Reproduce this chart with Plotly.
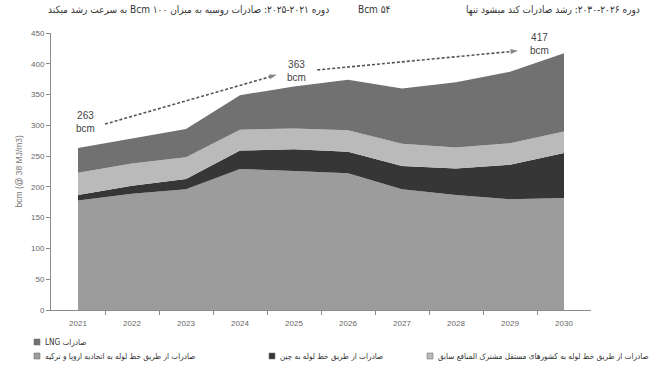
import plotly.graph_objects as go

# ---- data (bcm @ 38 MJ/m3) ----
years = [2021, 2022, 2023, 2024, 2025, 2026, 2027, 2028, 2029, 2030]
eu_turkey = [178, 189, 196, 229, 226, 222, 196, 187, 180, 182]
china = [9, 13, 17, 30, 35, 35, 38, 43, 56, 73]
cis = [36, 36, 35, 34, 34, 35, 36, 34, 35, 35]
lng = [40, 40, 46, 56, 68, 82, 90, 106, 116, 127]

series_names = [
    "صادرات از طریق خط لوله به اتحادیه اروپا و ترکیه",
    "صادرات از طریق خط لوله به چین",
    "صادرات از طریق خط لوله به کشورهای مستقل مشترک المنافع سابق",
    "صادرات LNG",
]
series_values = [eu_turkey, china, cis, lng]
series_colors = ["#9c9c9c", "#363636", "#bababa", "#717171"]

headline_left = "دوره ۲۰۲۱-۲۰۲۵: صادرات روسیه به میزان ۱۰۰ Bcm به سرعت رشد میکند"
headline_right_main = "دوره ۲۰۲۶-۲۰۳۰: رشد صادرات کند میشود تنها"
headline_right_tail = "۵۴ Bcm"
y_title = "bcm (@ 38 MJ/m3)"

totals = [sum(v) for v in zip(*series_values)]

W, H = 652, 374
L, R, T, B = 51, 61, 33, 64
PW, PH = W - L - R, H - T - B


def px_x(x):
    return (x - L) / PW


def px_y(y):
    return (H - B - y) / PH


def rtl(s):
    return "\u202b" + s + "\u202c"


BASE_FONT = "Liberation Sans, DejaVu Sans, sans-serif"
FA_FONT = "DejaVu Sans Condensed, DejaVu Sans, sans-serif"

fig = go.Figure()

# stacked areas
for name, vals, col in zip(series_names, series_values, series_colors):
    fig.add_trace(go.Scatter(
        x=years, y=vals, name=name, stackgroup="one", mode="lines",
        line=dict(width=0, color=col), fillcolor=col,
        showlegend=False, hoverinfo="x+y+name",
    ))

# dashed growth arrows between the milestone totals
arrows = [
    ([2021.5, 2024.68], [302, 382]),
    ([2025.43, 2029.15], [390, 421]),
]
for ax_, ay_ in arrows:
    fig.add_trace(go.Scatter(
        x=ax_, y=ay_, mode="lines+markers",
        line=dict(color="#555555", width=1.6, dash="3px,2px"),
        marker=dict(symbol="arrow", angleref="previous", size=[0, 8],
                    color="#555555", line=dict(width=0)),
        showlegend=False, hoverinfo="skip", cliponaxis=False,
    ))

annotations = []

# milestone labels taken from the stacked totals
for idx, xoff, yoff in [(0, 0.13, 42), (4, 0.05, 25), (9, -0.45, 15)]:
    annotations.append(dict(
        x=years[idx] + xoff, y=totals[idx] + yoff, xref="x", yref="y",
        text=f"{totals[idx]}<br>bcm", showarrow=False,
        font=dict(family=BASE_FONT, size=10, color="#444444"),
        align="center", xanchor="center", yanchor="middle",
    ))

# headline texts
head_font = dict(family=FA_FONT, size=10, color="#333333")
annotations.append(dict(
    x=px_x(188), y=px_y(10), xref="paper", yref="paper",
    xanchor="center", yanchor="middle",
    text=rtl(headline_left), showarrow=False, font=head_font,
))
annotations.append(dict(
    x=px_x(642), y=px_y(10), xref="paper", yref="paper",
    xanchor="right", yanchor="middle",
    text=rtl(headline_right_main), showarrow=False, font=head_font,
))
annotations.append(dict(
    x=px_x(356), y=px_y(10), xref="paper", yref="paper",
    xanchor="left", yanchor="middle",
    text=rtl(headline_right_tail), showarrow=False, font=head_font,
))

# y-axis title
annotations.append(dict(
    x=px_x(18), y=0.5, xref="paper", yref="paper",
    xanchor="center", yanchor="middle",
    text=y_title, textangle=-90, showarrow=False,
    font=dict(family=BASE_FONT, size=8.5, color="#777777"),
))

# legend: LNG on its own row, the three pipeline routes on the second row
legend_slots = [
    (3, 37, 342),
    (0, 37, 356),
    (1, 272, 356),
    (2, 430, 356),
]
shapes = []
for si, mx, my in legend_slots:
    shapes.append(dict(
        type="rect", xref="paper", yref="paper",
        xsizemode="pixel", ysizemode="pixel",
        xanchor=px_x(mx), yanchor=px_y(my),
        x0=-3, x1=3, y0=-3, y1=3,
        fillcolor=series_colors[si], line=dict(color="#777777", width=0.6),
    ))
    annotations.append(dict(
        x=px_x(mx + 6), y=px_y(my), xref="paper", yref="paper",
        xanchor="left", yanchor="middle",
        text=rtl(series_names[si]), showarrow=False,
        font=dict(family=FA_FONT, size=8.1, color="#333333"),
    ))

fig.update_layout(
    width=W, height=H,
    margin=dict(l=L, r=R, t=T, b=B),
    paper_bgcolor="white", plot_bgcolor="white",
    showlegend=False,
    annotations=annotations,
    shapes=shapes,
    font=dict(family=BASE_FONT, size=8, color="#666666"),
)

fig.update_xaxes(
    range=[2020.5, 2030.5], tickvals=years, ticktext=[str(y) for y in years],
    ticks="", showgrid=False, zeroline=False,
    showline=True, linecolor="#8a8a8a", linewidth=1,
    tickfont=dict(size=8, color="#666666"), ticklabelstandoff=5,
    minor=dict(tickvals=[y + 0.5 for y in years[:-1]], ticks="outside",
               ticklen=4, tickcolor="#8a8a8a", showgrid=False),
)
fig.update_yaxes(
    range=[0, 450], dtick=50, ticks="outside", ticklen=4, tickcolor="#8a8a8a",
    showgrid=False, zeroline=False,
    showline=True, linecolor="#8a8a8a", linewidth=1,
    tickfont=dict(size=8, color="#666666"),
)

fig.write_html("out.html")
